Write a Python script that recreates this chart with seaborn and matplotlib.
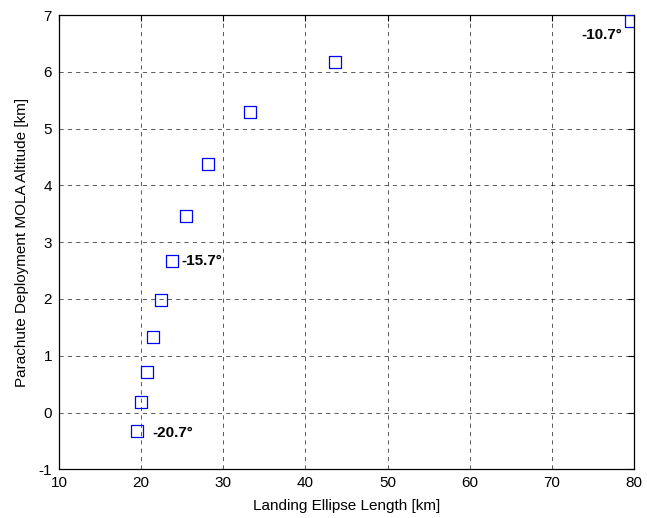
import matplotlib
matplotlib.use('Agg')
import matplotlib.pyplot as plt
import seaborn as sns
import pandas as pd

# landing ellipse length [km] vs parachute deployment altitude [km]
ellipse_km = [19.55, 20.04, 20.68, 21.49, 22.46, 23.76, 25.5, 28.17, 33.27, 43.6, 79.6]
altitude_km = [-0.32, 0.19, 0.72, 1.33, 1.98, 2.66, 3.46, 4.37, 5.30, 6.18, 6.90]

# flight path angle labels next to some points
label_idx = [0, 5, 10]
label_txt = ['-20.7°', '-15.7°', '-10.7°']

df = pd.DataFrame({'x': ellipse_km, 'y': altitude_km})

sns.set_style('white')
plt.rcParams['font.family'] = ['Liberation Sans', 'DejaVu Sans']
plt.rcParams['axes.unicode_minus'] = False
plt.rcParams['text.color'] = 'black'
plt.rcParams['axes.labelcolor'] = 'black'
plt.rcParams['xtick.color'] = 'black'
plt.rcParams['ytick.color'] = 'black'

fig = plt.figure(figsize=(6.47, 5.18), dpi=100)
ax = fig.add_axes([0.091, 0.094, 0.889, 0.877])

sns.scatterplot(data=df, x='x', y='y', marker='s', s=75,
                facecolor='none', edgecolor='#0000ff', linewidth=0.9, ax=ax, zorder=3)

# annotations
offsets = [(11, -2), (7, 0), (-6, -10)]
aligns = ['left', 'left', 'right']
for i, t, off, ha in zip(label_idx, label_txt, offsets, aligns):
    ax.annotate(t, (ellipse_km[i], altitude_km[i]), xytext=off, textcoords='offset points',
                ha=ha, va='center', fontsize=11, fontweight='bold')

ax.set_xlim(10, 80)
ax.set_ylim(-1, 7)
ax.set_xticks(range(10, 81, 10))
ax.set_yticks(range(-1, 8))
ax.grid(True, color='black', linestyle=(0, (5, 5)), linewidth=0.6, alpha=0.75)
ax.tick_params(direction='in', top=True, right=True, labelsize=11, length=4, color='black', pad=5)
for sp in ax.spines.values():
    sp.set_visible(True)
    sp.set_color('black')
    sp.set_linewidth(0.9)

ax.set_xlabel('Landing Ellipse Length [km]', fontsize=11, labelpad=6)
ax.set_ylabel('Parachute Deployment MOLA Altitude [km]', fontsize=11, labelpad=7)

fig.savefig('out.png', dpi=100)
